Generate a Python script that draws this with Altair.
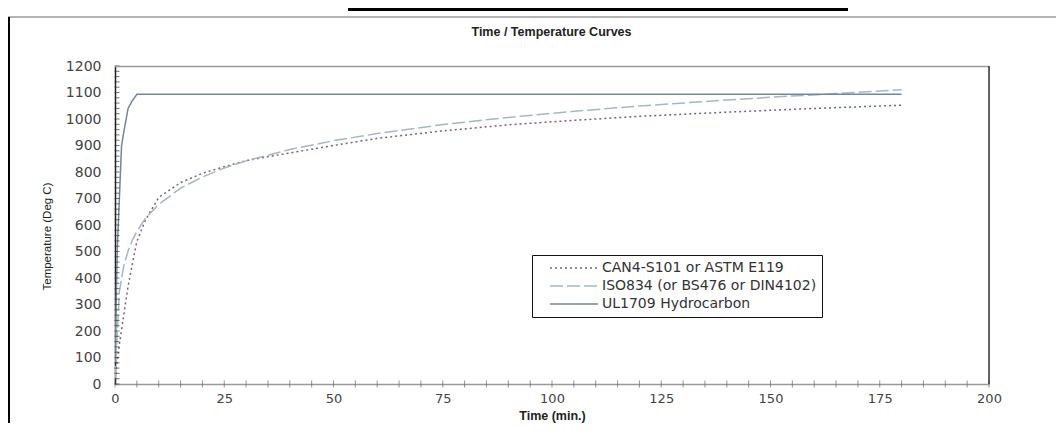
import altair as alt
import pandas as pd

# ---- data ----
series_names = ["CAN4-S101 or ASTM E119", "ISO834 (or BS476 or DIN4102)", "UL1709 Hydrocarbon"]

e119_time = [0, 1, 2, 3, 4, 5, 7, 10, 15, 20, 25, 30, 40, 50, 60, 75, 90, 105, 120, 135, 150, 165, 180]
e119_temp = [20, 150, 260, 370, 455, 538, 620, 704, 760, 795, 820, 843, 872, 900, 927, 955, 978, 995, 1010, 1022, 1033, 1043, 1052]

iso_time = [0, 1, 2, 3, 4, 5, 7, 10, 15, 20, 25, 30, 40, 50, 60, 75, 90, 105, 120, 135, 150, 165, 180]
iso_temp = [20, 349, 445, 502, 544, 576, 626, 678, 739, 781, 815, 842, 885, 918, 945, 979, 1006, 1029, 1049, 1066, 1082, 1096, 1110]

ul_time = [0, 0.5, 1, 1.5, 2, 3, 4, 5, 180]
ul_temp = [80, 500, 700, 900, 950, 1040, 1070, 1093, 1093]

x_label_values = [0, 25, 50, 75, 100, 125, 150, 175, 200]
y_label_values = [0, 100, 200, 300, 400, 500, 600, 700, 800, 900, 1000, 1100, 1200]
x_minor_ticks = list(range(0, 205, 5))
y_minor_ticks = list(range(0, 1220, 20))

series_colors = ["#7d5f80", "#a3b8c2", "#73879a"]
series_dashes = [[2, 3], [13, 4], [1, 0]]

rows = []
for name, ts, vs in [(series_names[0], e119_time, e119_temp),
                     (series_names[1], iso_time, iso_temp),
                     (series_names[2], ul_time, ul_temp)]:
    for i, (t, v) in enumerate(zip(ts, vs)):
        rows.append({"series": name, "time": t, "temp": v, "order": i})
df = pd.DataFrame(rows)

W, H = 874, 318

xscale = alt.Scale(domain=[0, 200], nice=False)
yscale = alt.Scale(domain=[0, 1200], nice=False)

xaxis = alt.Axis(values=x_label_values, ticks=False, grid=False, format="d",
                 labelFlush=False,
                 domainColor="#9a9a9a", domainWidth=1.5,
                 labelPadding=8, labelFont="DejaVu Sans", labelFontSize=13,
                 labelColor="#444444",
                 title="Time (min.)", titleFont="Liberation Sans",
                 titleFontSize=12.5, titleFontWeight="bold", titleColor="#222222",
                 titleX=W / 2, titleY=31, titleBaseline="middle")
yaxis = alt.Axis(values=y_label_values, ticks=False, grid=False, format="d",
                 labelFlush=False,
                 domainColor="#222222", domainWidth=1.5,
                 labelPadding=14, labelFont="DejaVu Sans", labelFontSize=14,
                 labelColor="#444444", labelOverlap=False,
                 title="Temperature (Deg C)", titleFont="Liberation Sans",
                 titleFontSize=11.5, titleFontWeight="normal", titleColor="#222222",
                 titleAngle=270, titleX=-68, titleY=170,
                 titleAlign="center", titleBaseline="middle")

legend = alt.Legend(orient="none", legendX=417, legendY=189, title=None,
                    direction="vertical",
                    strokeColor="#111111", fillColor="white",
                    padding=5, symbolType="stroke", symbolSize=2304,
                    symbolStrokeWidth=1.5, symbolOffset=12,
                    labelFont="DejaVu Sans", labelFontSize=14,
                    labelColor="#333333", labelOffset=3,
                    rowPadding=2, clipHeight=16, labelLimit=400)

lines = alt.Chart(df).mark_line(strokeWidth=1.5, clip=True).encode(
    x=alt.X("time:Q", scale=xscale, axis=xaxis, title="Time (min.)"),
    y=alt.Y("temp:Q", scale=yscale, axis=yaxis, title="Temperature (Deg C)"),
    color=alt.Color("series:N",
                    scale=alt.Scale(domain=series_names, range=series_colors),
                    legend=legend),
    strokeDash=alt.StrokeDash("series:N",
                              scale=alt.Scale(domain=series_names, range=series_dashes),
                              legend=legend),
    order="order:Q",
)

xt = alt.Chart(pd.DataFrame({"time": x_minor_ticks})).mark_tick(
    orient="vertical", size=7, thickness=1, color="#666666"
).encode(x=alt.X("time:Q", scale=xscale, axis=xaxis, title="Time (min.)"), y=alt.value(H))

yt = alt.Chart(pd.DataFrame({"temp": y_minor_ticks})).mark_tick(
    orient="horizontal", size=5, thickness=1, color="#333333"
).encode(y=alt.Y("temp:Q", scale=yscale, axis=yaxis, title="Temperature (Deg C)"), x=alt.value(2))

one = pd.DataFrame({"t": ["Time / Temperature Curves"]})

title = alt.Chart(one).mark_text(
    font="Liberation Sans", fontSize=12.5, fontWeight="bold", color="#222222",
    align="center", baseline="middle"
).encode(text="t:N", x=alt.value(W / 2 - 0.5), y=alt.value(-34))

def hrule(x1, x2, y, color, width):
    return alt.Chart(one).mark_rule(color=color, strokeWidth=width).encode(
        x=alt.value(x1), x2=alt.value(x2), y=alt.value(y))

def vrule(x, y1, y2, color, width):
    return alt.Chart(one).mark_rule(color=color, strokeWidth=width).encode(
        x=alt.value(x), y=alt.value(y1), y2=alt.value(y2))

frames = [
    hrule(233, 733, -57, "#000000", 4),       # clipped heading underline
    hrule(-107, 941, -49, "#9a9a9a", 1.5),    # chart area top edge
    vrule(-106, -49, 357, "#000000", 2),      # chart area left edge
    hrule(0, W, 0.5, "#9a9a9a", 1.5),          # plot area top edge
    vrule(W, 0, H, "#333333", 1.5),            # plot area right edge
]

chart = alt.layer(lines, xt, yt, *frames, title).properties(
    width=W, height=H,
    padding={"left": 107, "top": 58, "right": 67, "bottom": 47},
    autosize=alt.AutoSizeParams(type="none"),
).configure_view(stroke=None).configure(background="white")

chart.save("out.html", embed_options={"renderer": "svg", "actions": False})
